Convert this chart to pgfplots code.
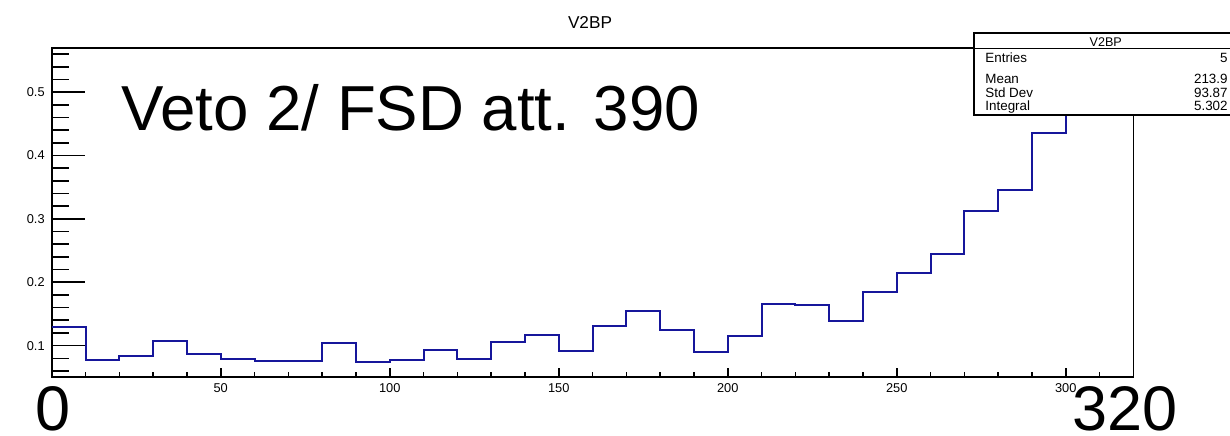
\documentclass[border=0pt]{standalone}
\usepackage{fontspec}
\setmainfont{Liberation Sans}
\usepackage{pgfplots}
\pgfplotsset{compat=1.18}
\definecolor{histblue}{RGB}{22,22,155}

\begin{document}
\begin{tikzpicture}
% picture is 1230 x 435 px, 1 px = 0.5pt
\useasboundingbox (0,0) rectangle (615pt,217.5pt);
\begin{axis}[
  at={(25.85pt,29.15pt)}, anchor=south west,
  scale only axis, width=540.8pt, height=164.5pt,
  xmin=0, xmax=320, ymin=0.051, ymax=0.570,
  axis line style={line width=0.8pt},
  tick align=inside,
  xtick pos=bottom, ytick pos=left,
  xtick={50,100,150,200,250,300},
  minor xtick={0,10,...,320},
  ytick={0.1,0.2,0.3,0.4,0.5},
  minor ytick={0.06,0.08,...,0.57},
  xtick style={black,line width=0.8pt,/pgfplots/major tick length=4.5pt,/pgfplots/minor tick length=2.4pt},
  ytick style={black,line width=0.8pt,/pgfplots/major tick length=16.5pt,/pgfplots/minor tick length=8.5pt},
  /pgf/number format/assume math mode=true,
  yticklabel style={/pgf/number format/fixed,/pgf/number format/precision=1},
  ticklabel style={font=\fontsize{6.4}{7}\selectfont},
  scaled y ticks=false,
]
\addplot[const plot, histblue, line width=1pt] coordinates {
  (0,0.129) (10,0.0774) (20,0.0838) (30,0.107) (40,0.0874)
  (50,0.0785) (60,0.0764) (70,0.0764) (80,0.104) (90,0.0738)
  (100,0.0777) (110,0.0932) (120,0.0785) (130,0.105) (140,0.117)
  (150,0.0921) (160,0.131) (170,0.154) (180,0.124) (190,0.0905)
  (200,0.116) (210,0.165) (220,0.164) (230,0.139) (240,0.184)
  (250,0.215) (260,0.244) (270,0.313) (280,0.3456) (290,0.436)
  (300,0.52) (310,0.55) (320,0.55)
};
\end{axis}
\begin{scope}[x=0.5pt,y=0.5pt]
  \node[anchor=base,inner sep=0,font=\fontsize{8.6}{10}\selectfont] at (590,406.7) {V2BP};
  \node[anchor=base west,inner sep=0,font=\fontsize{31.8}{36}\selectfont] at (121,305) {Veto 2/ FSD att. 390};
  \node[anchor=base west,inner sep=0,font=\fontsize{31.5}{36}\selectfont] at (35.5,4.5) {0};
  \node[anchor=base west,inner sep=0,font=\fontsize{31.5}{36}\selectfont] at (1072,4.5) {320};
  % statistics box
  \filldraw[fill=white,draw=black,line width=0.9pt] (974,319.7) rectangle (1234,402);
  \draw[line width=0.7pt] (974,386.3) -- (1234,386.3);
  \begin{scope}[every node/.style={inner sep=0,font=\fontsize{6.7}{7}\selectfont}]
    \node[anchor=base,font=\fontsize{6.3}{7}\selectfont] at (1105.7,389) {V2BP};
    \node[anchor=base west] at (985,372) {Entries};
    \node[anchor=base west] at (985,352) {Mean};
    \node[anchor=base west] at (985,337.5) {Std Dev};
    \node[anchor=base west] at (985,325) {Integral};
    \node[anchor=base east] at (1228,372) {5};
    \node[anchor=base east] at (1228,352) {213.9};
    \node[anchor=base east] at (1228,337.5) {93.87};
    \node[anchor=base east] at (1228,325) {5.302};
  \end{scope}
\end{scope}
\end{tikzpicture}
\end{document}
